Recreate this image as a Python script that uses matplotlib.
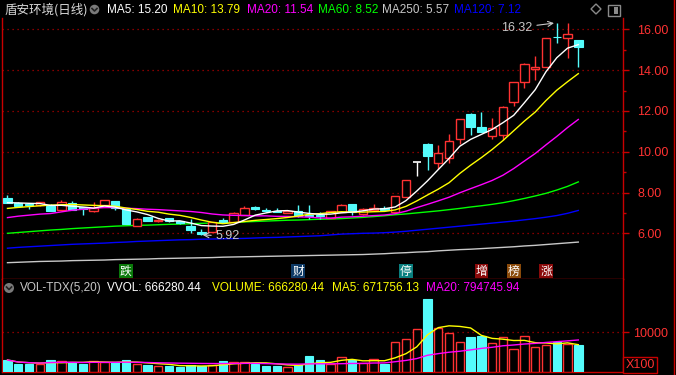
import numpy as np
import pandas as pd
import matplotlib
matplotlib.use('Agg')
import matplotlib.pyplot as plt
import matplotlib.transforms as mtransforms
from matplotlib.patches import Rectangle, Ellipse, Polygon
from matplotlib.lines import Line2D

plt.rcParams['font.family'] = ['Liberation Sans', 'Noto Sans CJK SC', 'DejaVu Sans']

# ---------------- data ----------------
opens = [7.72, 7.50, 7.44, 7.39, 7.36, 7.15, 7.48, 7.28, 7.10, 7.39,
         7.56, 7.23, 6.36, 6.79, 6.58, 6.77, 6.58, 6.38, 6.07, 6.04,
         6.64, 6.53, 6.90, 7.31, 7.15, 7.10, 7.00, 7.10, 6.92, 6.92,
         6.74, 7.05, 7.43, 6.94, 7.13, 7.26, 7.05, 7.79, 9.51, 10.39,
         9.44, 9.69, 10.63, 11.86, 11.20, 10.75, 10.80, 12.43, 13.41, 14.06,
         14.14, 15.62, 15.59, 15.48]
highs = [7.88, 7.52, 7.50, 7.54, 7.46, 7.62, 7.56, 7.28, 7.51, 7.61,
         7.56, 7.26, 6.74, 6.82, 6.69, 6.77, 6.62, 6.72, 6.19, 6.56,
         6.76, 7.03, 7.36, 7.34, 7.23, 7.23, 7.15, 7.39, 7.39, 7.05,
         7.10, 7.46, 7.43, 7.23, 7.43, 7.36, 7.82, 8.60, 9.51, 10.42,
         10.34, 10.88, 11.60, 11.89, 11.97, 11.64, 12.26, 13.41, 14.37, 14.69,
         15.56, 16.32, 16.30, 15.48]
lows = [7.48, 7.32, 7.20, 7.36, 7.07, 7.15, 7.13, 6.90, 7.02, 7.39,
        7.15, 6.46, 6.36, 6.61, 6.53, 6.55, 6.48, 6.00, 5.92, 6.04,
        6.50, 6.53, 6.90, 7.15, 7.02, 7.02, 7.00, 6.82, 6.70, 6.70,
        6.74, 7.05, 6.89, 6.90, 7.13, 7.10, 6.98, 7.76, 8.79, 9.08,
        9.16, 9.44, 10.39, 10.83, 10.96, 10.63, 10.58, 12.22, 13.11, 13.52,
        14.14, 15.31, 14.61, 14.17]
closes = [7.48, 7.34, 7.39, 7.52, 7.10, 7.51, 7.13, 7.18, 7.26, 7.61,
          7.23, 6.46, 6.69, 6.61, 6.66, 6.58, 6.52, 6.15, 5.99, 6.53,
          6.53, 6.98, 7.23, 7.18, 7.07, 7.02, 7.07, 6.86, 6.86, 6.84,
          7.07, 7.38, 7.05, 7.17, 7.26, 7.16, 7.82, 8.60, 9.51, 9.77,
          9.93, 10.53, 11.60, 11.19, 10.99, 11.15, 12.18, 13.41, 14.29, 14.17,
          15.56, 15.60, 15.76, 15.15]
volumes = [296600, 194900, 194900, 186400, 288100, 271200, 237300, 203400, 271200, 237300,
           237300, 288100, 186400, 169500, 135600, 152500, 127100, 169500, 135600, 169500,
           271200, 254200, 237300, 203400, 152500, 152500, 118600, 169500, 398300, 296600,
           203400, 372900, 296600, 211900, 313600, 194900, 745800, 822000, 1076300, 1847500,
           1101700, 974600, 745800, 881400, 906800, 720300, 872900, 576300, 898300, 618600,
           678000, 762700, 703400, 666280]

# moving-average values before each window fills
ma5_head = [7.50, 7.49, 7.47, 7.46]
ma10_head = [7.22, 7.27, 7.31, 7.35, 7.38, 7.40, 7.41, 7.39, 7.37]
ma20_head = [6.77, 6.84, 6.89, 6.94, 6.97, 7.05, 7.13, 7.18, 7.23, 7.26,
             7.26, 7.23, 7.21, 7.18, 7.16, 7.13, 7.10, 7.07, 7.02]
ma60 = [6.00, 6.04, 6.08, 6.12, 6.16, 6.19, 6.23, 6.26, 6.29, 6.32,
        6.35, 6.37, 6.39, 6.40, 6.42, 6.44, 6.45, 6.47, 6.49, 6.50,
        6.52, 6.54, 6.56, 6.58, 6.60, 6.62, 6.64, 6.65, 6.67, 6.69,
        6.70, 6.72, 6.75, 6.78, 6.82, 6.86, 6.91, 6.95, 7.00, 7.05,
        7.10, 7.16, 7.22, 7.29, 7.35, 7.42, 7.50, 7.60, 7.71, 7.83,
        7.96, 8.12, 8.30, 8.52]
ma120 = [5.27, 5.31, 5.34, 5.37, 5.40, 5.43, 5.46, 5.48, 5.50, 5.52,
         5.55, 5.57, 5.60, 5.62, 5.64, 5.66, 5.68, 5.69, 5.71, 5.72,
         5.73, 5.74, 5.75, 5.77, 5.79, 5.80, 5.82, 5.84, 5.86, 5.88,
         5.92, 5.96, 5.98, 6.00, 6.01, 6.03, 6.06, 6.10, 6.15, 6.20,
         6.25, 6.30, 6.35, 6.40, 6.45, 6.50, 6.55, 6.60, 6.66, 6.72,
         6.79, 6.87, 6.98, 7.12]
ma250 = [4.56, 4.58, 4.60, 4.62, 4.63, 4.64, 4.66, 4.67, 4.68, 4.69,
         4.71, 4.72, 4.73, 4.74, 4.76, 4.77, 4.78, 4.79, 4.80, 4.81,
         4.83, 4.84, 4.85, 4.86, 4.87, 4.88, 4.89, 4.90, 4.91, 4.92,
         4.93, 4.94, 4.95, 4.96, 4.98, 5.00, 5.03, 5.05, 5.08, 5.10,
         5.14, 5.17, 5.20, 5.22, 5.25, 5.28, 5.31, 5.34, 5.38, 5.41,
         5.45, 5.49, 5.53, 5.57]

price_ticks = [6, 8, 10, 12, 14, 16]
price_minor = [7, 9, 11, 13, 15]
vol_ticks = [10000]

badge_idx = [11, 27, 37, 44, 47, 50]
badge_txt = ['跌', '财', '停', '增', '榜', '涨']
badge_col = ['#0a7a0a', '#0e3a66', '#0a7f7f', '#8a0a0a', '#8a4a0a', '#8a0a0a']

# ---------------- derived ----------------
c = pd.Series(closes)
def ma_with_head(n, head):
    m = c.rolling(n).mean().to_numpy()
    m[:len(head)] = head
    return m
ma5 = ma_with_head(5, ma5_head)
ma10 = ma_with_head(10, ma10_head)
ma20 = ma_with_head(20, ma20_head)
v = pd.Series(volumes) / 100.0
vma5 = v.rolling(5, min_periods=1).mean()
vma20 = v.rolling(20, min_periods=1).mean()

# ---------------- style ----------------
W, H = 676, 375
RED = '#ff3232'
FRAME = '#c80000'
CYAN = '#54fcfc'
GRID = '#b00000'
PX = 0.72  # one pixel in points

fig = plt.figure(figsize=(W / 100, H / 100), dpi=100, facecolor='black')

def fx(x):
    return x / W

def fy(y):
    return 1 - y / H

ax = fig.add_axes([fx(2), fy(279), (623 - 2) / W, (279 - 18) / H])
vax = fig.add_axes([fx(2), fy(372), (623 - 2) / W, (372 - 279) / H])

n = len(closes)
xs = np.arange(n)
w = 0.78

for a in (ax, vax):
    a.set_facecolor('black')
    a.set_xlim(-0.51, 57.15)
    a.set_xticks([])
    for s in ('left', 'right', 'bottom'):
        a.spines[s].set_color(FRAME)
        a.spines[s].set_linewidth(1.0)
    a.spines['top'].set_visible(False)
    a.yaxis.tick_right()

ax.set_ylim(3.76, 16.554)
vax.set_ylim(-76, 23528)

# grid
for t in price_ticks:
    ax.axhline(t, color=GRID, lw=0.9, ls=(0, (1, 3)), zorder=0)
for t in vol_ticks:
    vax.axhline(t, color=GRID, lw=0.9, ls=(0, (1, 3)), zorder=0)

# candles
for i in range(n):
    o, h, l, cl = opens[i], highs[i], lows[i], closes[i]
    if cl > o:
        ax.vlines(i, cl, h, color=RED, lw=1.0, zorder=3)
        ax.vlines(i, l, o, color=RED, lw=1.0, zorder=3)
        ax.add_patch(Rectangle((i - w / 2, o), w, cl - o, facecolor='black',
                               edgecolor=RED, lw=1.0, zorder=3))
    elif cl < o:
        ax.vlines(i, l, h, color=CYAN, lw=1.0, zorder=3)
        ax.add_patch(Rectangle((i - w / 2, cl), w, o - cl, facecolor=CYAN,
                               edgecolor=CYAN, lw=0.8, zorder=3))
    else:
        ax.vlines(i, l, h, color='white', lw=1.0, zorder=3)
        ax.hlines(o, i - w / 2, i + w / 2, color='white', lw=1.2, zorder=3)

# moving averages
ax.plot(xs, ma250, color='#c8c8c8', lw=1.0, zorder=2)
ax.plot(xs, ma120, color='#0000ff', lw=1.0, zorder=2)
ax.plot(xs, ma60, color='#00ff00', lw=1.0, zorder=2)
ax.plot(xs, ma20, color='#ff00ff', lw=1.0, zorder=4)
ax.plot(xs, ma10, color='#ffff00', lw=1.0, zorder=4)
ax.plot(xs, ma5, color='white', lw=1.0, zorder=4)

# price axis
ax.set_yticks(price_ticks)
ax.set_yticklabels(['%.2f' % t for t in price_ticks])
ax.set_yticks(price_minor, minor=True)
ax.tick_params(axis='y', which='major', length=6 * PX, width=1.0, color=FRAME,
               labelcolor=RED, labelsize=9, pad=8 * PX)
ax.tick_params(axis='y', which='minor', length=3 * PX, width=1.0, color=FRAME)

# annotations
ax.annotate('16.32', xy=(51, 16.32), xytext=(-24 * PX, -5 * PX), textcoords='offset points',
            ha='right', va='center', color='#c8c8c8', fontsize=9,
            arrowprops=dict(arrowstyle='->', color='#c8c8c8', lw=0.8, shrinkA=1, shrinkB=2))
ax.annotate('5.92', xy=(18, 5.92), xytext=(14 * PX, -1 * PX), textcoords='offset points',
            ha='left', va='center', color='#c8c8c8', fontsize=9,
            arrowprops=dict(arrowstyle='->', color='#c8c8c8', lw=0.8, shrinkA=1, shrinkB=1))

# badges
btr = mtransforms.blended_transform_factory(ax.transData, ax.transAxes)
for bi, bt, bc in zip(badge_idx, badge_txt, badge_col):
    ax.text(bi, (279 - 271) / 261, bt, transform=btr, ha='center', va='center',
            color='white', fontsize=8.5, family=['Noto Sans CJK SC', 'DejaVu Sans'],
            bbox=dict(boxstyle='square,pad=0.08', facecolor=bc, edgecolor='none'), zorder=6)

# volume bars
for i in range(n):
    vv = v[i]
    if closes[i] >= opens[i]:
        vax.add_patch(Rectangle((i - w / 2, 0), w, vv, facecolor='black',
                                edgecolor=RED, lw=1.0, zorder=3))
    else:
        vax.add_patch(Rectangle((i - w / 2, 0), w, vv, facecolor=CYAN,
                                edgecolor=CYAN, lw=0.8, zorder=3))
vax.plot(xs, vma5, color='#ffff00', lw=1.0, zorder=4)
vax.plot(xs, vma20, color='#ff00ff', lw=1.0, zorder=4)
vax.set_yticks(vol_ticks)
vax.set_yticklabels(['%d' % t for t in vol_ticks])
vax.tick_params(axis='y', which='major', length=6 * PX, width=1.0, color=FRAME,
                labelcolor=RED, labelsize=9, pad=4 * PX)

# X100 box
fig.add_artist(Rectangle((fx(623), fy(373)), 34 / W, 16 / H, transform=fig.transFigure,
                         facecolor='black', edgecolor=FRAME, lw=1.0))
fig.text(fx(640), fy(365), 'X100', color=RED, fontsize=9, ha='center', va='center')

# outer right frame line
fig.add_artist(Line2D([fx(673.5), fx(673.5)], [0, 1], transform=fig.transFigure,
                      color=FRAME, lw=1.0))

# ---------------- header texts ----------------
def icon(xc, yc, r):
    fig.add_artist(Ellipse((fx(xc), fy(yc)), 2 * r / W, 2 * r / H, transform=fig.transFigure,
                           facecolor='#7a7a7a', edgecolor='none'))
    fig.add_artist(Line2D([fx(xc - 2.5), fx(xc), fx(xc + 2.5)],
                          [fy(yc - 1), fy(yc + 1.5), fy(yc - 1)],
                          transform=fig.transFigure, color='#222222', lw=1.2))

fig.text(fx(4), fy(10), '盾安环境(日线)', color='#d8d8d8', fontsize=9, va='center',
         family=['Noto Sans CJK SC', 'DejaVu Sans'])
icon(94.5, 9.5, 4.8)
hdr = [(107, 'MA5: 15.20', 'white'), (173, 'MA10: 13.79', '#ffff00'),
       (247, 'MA20: 11.54', '#ff00ff'), (318, 'MA60: 8.52', '#00ff00'),
       (382, 'MA250: 5.57', '#c8c8c8'), (454, 'MA120: 7.12', '#0000ff')]
for x0, t, col in hdr:
    fig.text(fx(x0), fy(10), t, color=col, fontsize=8.5, va='center')

# diamond and box icons
fig.add_artist(Polygon([(fx(596), fy(4)), (fx(601), fy(9)), (fx(596), fy(14)), (fx(591), fy(9))],
                       closed=True, transform=fig.transFigure, facecolor='none',
                       edgecolor='#8a8a8a', lw=1.0))
fig.add_artist(Rectangle((fx(608), fy(16)), 12 / W, 11 / H, transform=fig.transFigure,
                         facecolor='none', edgecolor='#8a8a8a', lw=1.0))
fig.add_artist(Rectangle((fx(614), fy(14)), 4 / W, 7 / H, transform=fig.transFigure,
                         facecolor='#8a8a8a', edgecolor='none'))

# volume header
icon(9, 288, 5)
fig.text(fx(20), fy(288), 'VOL-TDX(5,20)', color='#c8c8c8', fontsize=8.5, va='center')
fig.text(fx(107), fy(288), 'VVOL: 666280.44', color='white', fontsize=8.5, va='center')
fig.text(fx(212), fy(288), 'VOLUME: 666280.44', color='#ffff00', fontsize=8.5, va='center')
fig.text(fx(332), fy(288), 'MA5: 671756.13', color='#ffff00', fontsize=8.5, va='center')
fig.text(fx(426), fy(288), 'MA20: 794745.94', color='#ff00ff', fontsize=8.5, va='center')

fig.savefig('out.png', dpi=100, facecolor='black')
